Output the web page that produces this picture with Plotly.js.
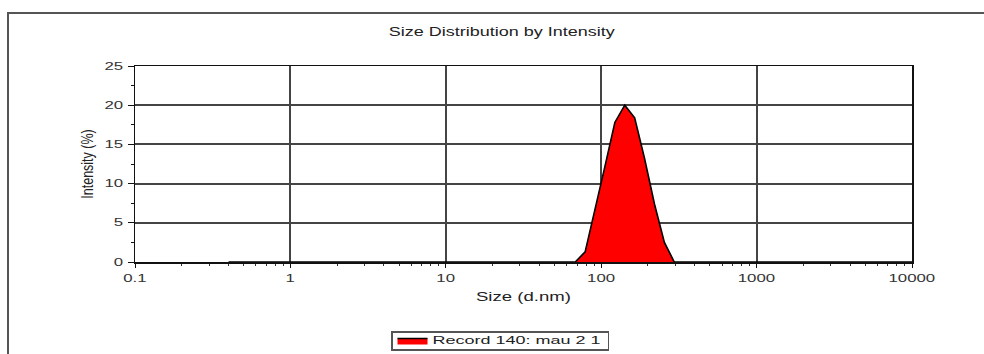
<!DOCTYPE html>
<html>
<head>
<meta charset="utf-8">
<script src="https://cdn.plot.ly/plotly-3.0.1.min.js"></script>
<style>
html,body{margin:0;padding:0;background:#fff;}
#chart{width:984px;height:354px;}
</style>
</head>
<body>
<div id="chart"></div>
<script>
// Size classes (d.nm)
const sizes = [0.4, 0.4632, 0.5365, 0.6213, 0.7195, 0.8332, 0.9649, 1.117, 1.294, 1.499,
  1.736, 2.01, 2.328, 2.696, 3.122, 3.615, 4.187, 4.849, 5.615, 6.503,
  7.531, 8.721, 10.1, 11.7, 13.54, 15.69, 18.17, 21.04, 24.36, 28.21,
  32.67, 37.84, 43.82, 50.75, 58.77, 68.06, 78.82, 91.28, 105.7, 122.4,
  141.8, 164.2, 190.1, 220.2, 255.0, 295.3, 342.0, 396.1, 458.7, 531.2,
  615.1, 712.4, 825.0, 955.4, 1106, 1281, 1484, 1718, 1990, 2305,
  2669, 3091, 3580, 4145, 4801, 5560, 6439, 7456, 8635, 10000];
// Intensity (%)
const intensity = [0, 0, 0, 0, 0, 0, 0, 0, 0, 0,
  0, 0, 0, 0, 0, 0, 0, 0, 0, 0,
  0, 0, 0, 0, 0, 0, 0, 0, 0, 0,
  0, 0, 0, 0, 0, 0, 1.3, 6.6, 12.2, 17.8,
  20.0, 18.4, 13.2, 7.4, 2.5, 0, 0, 0, 0, 0,
  0, 0, 0, 0, 0, 0, 0, 0, 0, 0,
  0, 0, 0, 0, 0, 0, 0, 0, 0, 0];
const seriesName = 'Record 140: mau 2 1';
const xTickVals = [0.1, 1, 10, 100, 1000, 10000];
const xTickText = ['0.1', '1', '10', '100', '1000', '10000'];
const yTickVals = [0, 5, 10, 15, 20, 25];

const L = 135, R = 72, T = 66, B = 92, W = 984, H = 354;
const pw = W - L - R, ph = H - T - B;
const px = v => (v - L) / pw;
const py = v => (H - B - v) / ph;
const FONT = 'Liberation Sans, Arial, sans-serif';

const trace = {
  x: sizes, y: intensity, type: 'scatter', mode: 'lines',
  name: seriesName, fill: 'tozeroy', fillcolor: '#ff0000',
  line: {color: '#000', width: 1.6}
};

const layout = {
  width: W, height: H,
  margin: {l: L, r: R, t: T, b: B, autoexpand: false},
  paper_bgcolor: '#fff', plot_bgcolor: '#fff',
  font: {family: FONT, color: '#222', size: 11},
  title: {text: 'Size Distribution by Intensity', x: 502 / W, xanchor: 'center', y: 1 - 32 / H, yanchor: 'middle',
    font: {size: 12.5, color: '#222'}},
  showlegend: true,
  legend: {orientation: 'h', xref: 'container', yref: 'container', x: 391 / W, xanchor: 'left',
    y: 1 - 351 / H, yanchor: 'bottom',
    bordercolor: '#555', borderwidth: 1.5, bgcolor: '#fff', font: {size: 10, color: '#222'},
    entrywidth: 170, entrywidthmode: 'pixels', itemwidth: 30},
  xaxis: {
    type: 'log', range: [-1, 4], tickmode: 'array', tickvals: xTickVals, ticktext: xTickText,
    showgrid: true, gridcolor: '#444', gridwidth: 2,
    showline: true, linecolor: '#111', linewidth: 1.5, mirror: true,
    ticks: 'outside', ticklen: 4, tickcolor: '#111', ticklabelstandoff: 3,
    minor: {dtick: 'D1', ticks: 'outside', ticklen: 2, tickcolor: '#333', showgrid: false},
    tickfont: {size: 10, color: '#333'}, zeroline: false,
    title: {text: 'Size (d.nm)', standoff: 9, font: {size: 12, color: '#222'}}
  },
  yaxis: {
    range: [0, 25], tickmode: 'array', tickvals: yTickVals,
    showgrid: true, gridcolor: '#444', gridwidth: 2,
    showline: true, linecolor: '#111', linewidth: 1.5, mirror: true,
    ticks: 'outside', ticklen: 6, tickcolor: '#111', ticklabelstandoff: 2,
    minor: {dtick: 2.5, ticks: 'outside', ticklen: 3, tickcolor: '#111', showgrid: false},
    tickfont: {size: 10, color: '#333'}, zeroline: false,
    title: {text: 'Intensity (%)', standoff: 17, font: {size: 12.5, color: '#222'}}
  },
  shapes: [{
    type: 'rect', xref: 'paper', yref: 'paper',
    x0: px(8), x1: px(1000), y0: py(380), y1: py(13),
    line: {color: '#555', width: 2}, fillcolor: 'rgba(0,0,0,0)', layer: 'below'
  }]
};

// Reference text is horizontally stretched; widen glyphs around each text anchor.
function stretchX(sel, s) {
  document.querySelectorAll('#chart ' + sel).forEach(t => {
    const b = t.getBBox();
    const a = t.getAttribute('text-anchor') || 'start';
    const ax = a === 'middle' ? b.x + b.width / 2 : a === 'end' ? b.x + b.width : b.x;
    const tr = t.getAttribute('transform') || '';
    t.setAttribute('transform', tr + ' translate(' + ax + ',0) scale(' + s + ',1) translate(' + (-ax) + ',0)');
  });
}
function stretchPerp(sel, s) {
  document.querySelectorAll('#chart ' + sel).forEach(t => {
    const b = t.getBBox();
    const ay = b.y + b.height / 2;
    const tr = t.getAttribute('transform') || '';
    t.setAttribute('transform', tr + ' translate(0,' + ay + ') scale(1,' + s + ') translate(0,' + (-ay) + ')');
  });
}
// Make the legend box as compact as the reference's, centred on its single entry.
function compactLegend(boxH, boxTop) {
  const g = document.querySelector('#chart g.legend');
  if (!g) return;
  const bg = g.querySelector('rect.bg');
  const item = g.querySelector('.legendtext');
  if (!bg || !item) return;
  const svgTop = document.querySelector('#chart svg.main-svg').getBoundingClientRect().top;
  const ir = item.getBoundingClientRect();
  const itemCy = (ir.top + ir.bottom) / 2 - svgTop;
  const dy = (boxTop + boxH / 2) - itemCy;
  const m = /translate\(\s*([-\d.]+)[ ,]+([-\d.]+)\s*\)/.exec(g.getAttribute('transform') || '');
  const tx = m ? parseFloat(m[1]) : 0;
  const ty = m ? parseFloat(m[2]) : 0;
  g.setAttribute('transform', 'translate(' + tx + ',' + (ty + dy) + ')');
  const bgTop = bg.getBoundingClientRect().top - svgTop;
  const by = parseFloat(bg.getAttribute('y') || 0);
  bg.setAttribute('y', by + (boxTop - bgTop));
  bg.setAttribute('height', boxH);
}

Plotly.newPlot('chart', [trace], layout, {displayModeBar: false, staticPlot: true}).then(() => {
  stretchX('.gtitle', 1.44);
  stretchX('.xtitle', 1.55);
  stretchX('.xtick text', 1.68);
  stretchX('.ytick text', 1.68);
  stretchX('.legendtext', 1.8);
  stretchPerp('.ytitle', 1.35);
  compactLegend(18, 332);
});
</script>
</body>
</html>
